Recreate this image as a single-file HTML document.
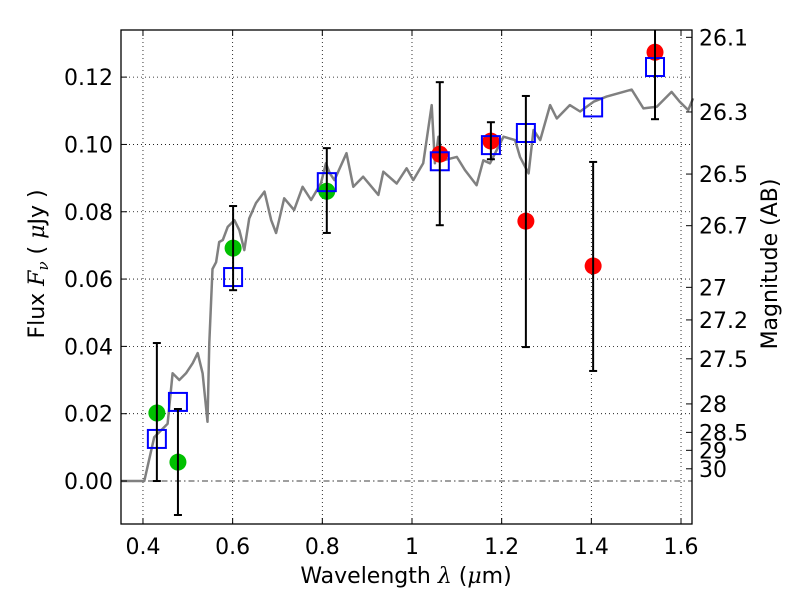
<!DOCTYPE html>
<html><head><meta charset="utf-8"><style>
html,body{margin:0;padding:0;background:#fff;}
svg{display:block;font-family:"DejaVu Sans","Liberation Sans",sans-serif;}
</style></head><body>
<svg id="chart" width="800" height="600" viewBox="0 0 800 600" xmlns="http://www.w3.org/2000/svg">
<rect x="0" y="0" width="800" height="600" fill="#fff"/>
<g id="grid"></g>
<g id="spec"></g>
<g id="marks"></g>
<rect x="121" y="30" width="571" height="494" fill="none" stroke="#000" stroke-width="1.3"/>
<g id="axes"></g>
<text x="406" y="583" font-size="22" text-anchor="middle">Wavelength  <tspan font-family="DejaVu Serif" font-style="italic">λ</tspan> (<tspan font-family="DejaVu Serif" font-style="italic">μ</tspan>m)</text>
<text transform="translate(44,264) rotate(-90)" font-size="22" text-anchor="middle">Flux  <tspan font-family="DejaVu Serif" font-style="italic">F<tspan font-size="15" dy="4">ν</tspan></tspan><tspan dy="-4">  (  </tspan><tspan font-family="DejaVu Serif" font-style="italic">μ</tspan>Jy )</text>
<text transform="translate(777,264) rotate(-90)" font-size="22" text-anchor="middle">Magnitude (AB)</text>
</svg>
<script>
const specLam = [0.352,0.403,0.425,0.455,0.466,0.481,0.496,0.511,0.522,0.533,0.544,0.548,0.555,0.563,0.570,0.578,0.589,0.604,0.615,0.626,0.637,0.652,0.671,0.686,0.697,0.715,0.737,0.756,0.775,0.797,0.808,0.817,0.827,0.854,0.869,0.891,0.925,0.936,0.966,0.988,1.003,1.025,1.044,1.051,1.059,1.07,1.10,1.118,1.144,1.159,1.174,1.204,1.23,1.241,1.26,1.271,1.286,1.308,1.323,1.352,1.375,1.405,1.434,1.471,1.49,1.516,1.546,1.579,1.597,1.616,1.627];
const specFlux = [0,0,0.013,0.017,0.032,0.030,0.032,0.035,0.038,0.032,0.0176,0.041,0.063,0.065,0.071,0.0716,0.0755,0.0775,0.0745,0.0686,0.078,0.0826,0.086,0.0775,0.0737,0.084,0.0805,0.0874,0.0835,0.0885,0.0944,0.0914,0.0894,0.0974,0.0874,0.0904,0.085,0.0919,0.0884,0.0929,0.0894,0.0944,0.1117,0.0944,0.1023,0.0953,0.0963,0.0924,0.0879,0.0953,0.0944,0.1023,0.1013,0.0963,0.0914,0.1043,0.1013,0.1117,0.1077,0.1117,0.1098,0.1127,0.1142,0.1156,0.1163,0.1107,0.1112,0.1156,0.1127,0.1102,0.1137];
const greenLam = [0.431,0.478,0.601,0.810];
const greenFlux = [0.0202,0.0056,0.0692,0.0861];
const greenLo = [0.0,-0.0101,0.0567,0.0737];
const greenHi = [0.041,0.0214,0.0817,0.0989];
const redLam = [1.062,1.176,1.254,1.404,1.542];
const redFlux = [0.0971,0.101,0.0772,0.0639,0.1274];
const redLo = [0.076,0.0956,0.0398,0.0327,0.1075];
const redHi = [0.1185,0.1066,0.1144,0.0948,0.137];
const boxLam = [0.431,0.478,0.601,0.810,1.062,1.176,1.254,1.404,1.542];
const boxFlux = [0.0125,0.0235,0.0606,0.0888,0.095,0.0998,0.1034,0.111,0.123];
const xTicks = [0.4,0.6,0.8,1.0,1.2,1.4,1.6];
const xTickLabels = ["0.4","0.6","0.8","1","1.2","1.4","1.6"];
const yTicks = [0,0.02,0.04,0.06,0.08,0.10,0.12];
const yTickLabels = ["0.00","0.02","0.04","0.06","0.08","0.10","0.12"];
const magTicks = [26.1,26.3,26.5,26.7,27,27.2,27.5,28,28.5,29,30];
const magTickLabels = ["26.1","26.3","26.5","26.7","27","27.2","27.5","28","28.5","29","30"];

const L=121,R=692,T=30,B=524;
const xmin=0.351,xmax=1.6245,ymin=-0.01277,ymax=0.134;
const X=v=>L+(v-xmin)/(xmax-xmin)*(R-L);
const Y=v=>B-(v-ymin)/(ymax-ymin)*(B-T);
const NS="http://www.w3.org/2000/svg";
function mk(tag,attrs,parent){const e=document.createElementNS(NS,tag);for(const k in attrs)e.setAttribute(k,attrs[k]);parent.appendChild(e);return e;}
const grid=document.getElementById('grid'),axes=document.getElementById('axes'),spec=document.getElementById('spec'),marks=document.getElementById('marks');

xTicks.forEach((v,i)=>{
  const g=mk('line',{x1:X(v),x2:X(v),y1:T,y2:B,stroke:'#000','stroke-width':0.8,'stroke-dasharray':'1,3'},grid);
  
  
  mk('line',{x1:X(v),x2:X(v),y1:B,y2:B-6,stroke:'#000'},axes);
  mk('line',{x1:X(v),x2:X(v),y1:T,y2:T+6,stroke:'#000'},axes);
  const t=mk('text',{x:X(v),y:B+30,'font-size':22,'text-anchor':'middle'},axes);
  t.textContent=xTickLabels[i];
  
  
});
yTicks.forEach((v,i)=>{
  const g=mk('line',{x1:L,x2:R,y1:Y(v),y2:Y(v),stroke:'#000','stroke-width':0.8,'stroke-dasharray':v===0?'6,3,1.5,3':'1,3'},grid);
  
  
  mk('line',{x1:L,x2:L+6,y1:Y(v),y2:Y(v),stroke:'#000'},axes);
  const t=mk('text',{x:L-8,y:Y(v)+8,'font-size':22,'text-anchor':'end'},axes);
  t.textContent=yTickLabels[i];
  
  
});
magTicks.forEach((m,i)=>{
  const f=Math.pow(10,(23.9-m)/2.5);
  const y=Y(f);
  mk('line',{x1:R,x2:R-6,y1:y,y2:y,stroke:'#000'},axes);
  const t=mk('text',{x:R+7,y:y+8,'font-size':22},axes);
  t.textContent=magTickLabels[i];
  
  
});
const d=specLam.map((v,i)=>(i?'L':'M')+X(v).toFixed(1)+','+Y(specFlux[i]).toFixed(1)).join('');
const sp=mk('path',{d:d,fill:'none',stroke:'#808080','stroke-width':2.5,'stroke-linejoin':'round'},spec);


const defs=mk('defs',{},document.getElementById('chart'));
const cp=mk('clipPath',{id:'pc'},defs);
mk('rect',{x:L,y:T,width:R-L,height:B-T},cp);
marks.setAttribute('clip-path','url(#pc)');
function errbar(x,lo,hi){
  mk('line',{x1:X(x),x2:X(x),y1:Y(lo),y2:Y(hi),stroke:'#000','stroke-width':2},marks);
  mk('line',{x1:X(x)-4,x2:X(x)+4,y1:Y(lo),y2:Y(lo),stroke:'#000','stroke-width':2},marks);
  mk('line',{x1:X(x)-4,x2:X(x)+4,y1:Y(hi),y2:Y(hi),stroke:'#000','stroke-width':2},marks);
}
greenLam.forEach((v,i)=>{
  const c=mk('circle',{cx:X(v),cy:Y(greenFlux[i]),r:8.5,fill:'#00c000'},marks);
  
  
});
redLam.forEach((v,i)=>{
  const c=mk('circle',{cx:X(v),cy:Y(redFlux[i]),r:8.5,fill:'#ff0000'},marks);
  
  
});
boxLam.forEach((v,i)=>{
  const r=mk('rect',{x:X(v)-9,y:Y(boxFlux[i])-9,width:18,height:18,fill:'none',stroke:'#0000ff','stroke-width':2},marks);
  
  
});
greenLam.forEach((v,i)=>errbar(v,greenLo[i],greenHi[i]));
redLam.forEach((v,i)=>errbar(v,redLo[i],redHi[i]));
</script>
</body></html>
